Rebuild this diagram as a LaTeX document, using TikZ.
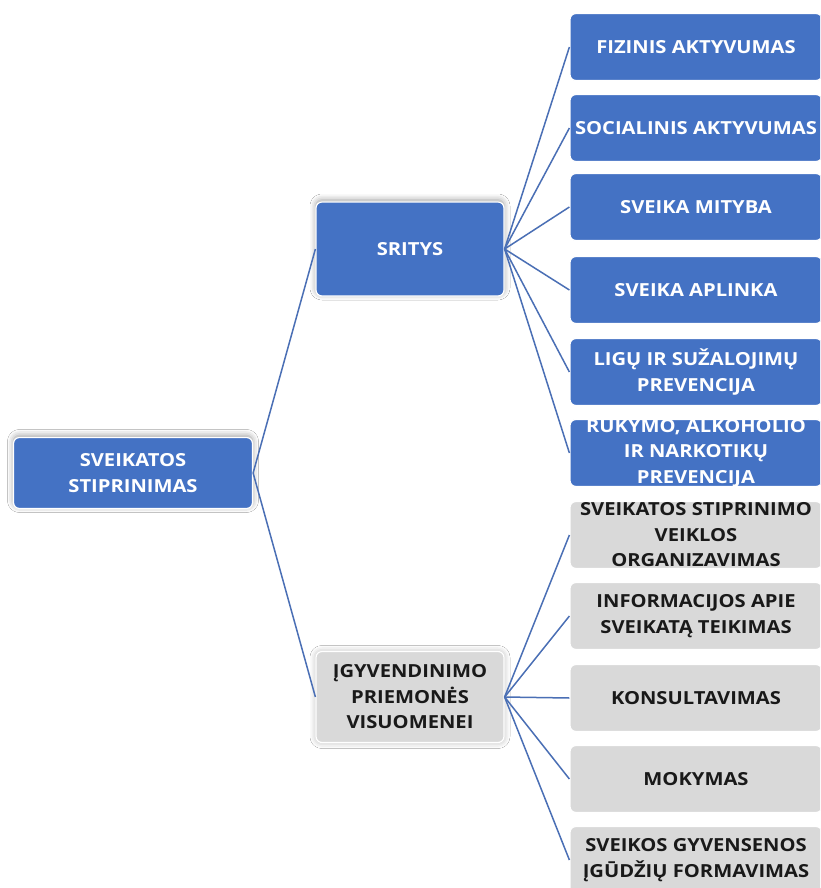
\documentclass[tikz,border=0pt]{standalone}
\usepackage{fontspec}
\setmainfont{Open Sans}[FakeStretch=1.12]
\usetikzlibrary{shadows.blur}
\definecolor{boxblue}{HTML}{4472C4}
\definecolor{boxgray}{HTML}{D9D9D9}
\definecolor{linkblue}{HTML}{4A6FB5}
\tikzset{
  box/.style={rounded corners=6pt, draw=white, line width=1.2pt, inner sep=0pt},
  bluebox/.style={box, fill=boxblue},
  graybox/.style={box, fill=boxgray},
  lbl/.style={font=\bfseries\fontsize{18}{25.5}\selectfont, align=center, inner sep=0pt},
  wlbl/.style={lbl, text=white},
  klbl/.style={lbl, text=black!90},
  link/.style={draw=linkblue, line width=1.5pt},
  rbox/.style={minimum width=252pt, minimum height=67pt},
  shad/.style={blur shadow={shadow xshift=0pt, shadow yshift=2pt, shadow blur radius=6pt, shadow opacity=40}},
}
\begin{document}
\begin{tikzpicture}[x=1pt,y=-1pt]
\useasboundingbox (0,0) rectangle (820,888);
\clip (0,0) rectangle (820,888);
\fill[white] (0,0) rectangle (820,888);

% root and middle nodes
\node[bluebox, shad, minimum width=239pt, minimum height=71pt] (root) at (133,473) {};
\node[wlbl] at (root) {SVEIKATOS\\STIPRINIMAS};

\node[bluebox, shad, minimum width=188pt, minimum height=94pt] (sritys) at (410,249) {};
\node[wlbl] at (sritys) {SRITYS};

\node[graybox, minimum width=188pt, minimum height=91pt,
      blur shadow={shadow xshift=0pt, shadow yshift=0pt, shadow blur radius=6pt, shadow opacity=30}] (priem) at (410,697) {};
\node[klbl] at (priem) {ĮGYVENDINIMO\\PRIEMONĖS\\VISUOMENEI};

% blue boxes
\node[bluebox, rbox] (b1) at (696,47) {};
\node[wlbl] at (b1) {FIZINIS AKTYVUMAS};
\node[bluebox, rbox] (b2) at (696,128) {};
\node[wlbl] at (b2) {SOCIALINIS AKTYVUMAS};
\node[bluebox, rbox] (b3) at (696,207) {};
\node[wlbl] at (b3) {SVEIKA MITYBA};
\node[bluebox, rbox] (b4) at (696,290) {};
\node[wlbl] at (b4) {SVEIKA APLINKA};
\node[bluebox, rbox] (b5) at (696,372) {};
\node[wlbl] at (b5) {LIGŲ IR SUŽALOJIMŲ\\PREVENCIJA};
\node[bluebox, rbox] (b6) at (696,453) {};
\node[wlbl] at (b6) {RUKYMO, ALKOHOLIO\\IR NARKOTIKŲ\\PREVENCIJA};

% gray boxes
\node[graybox, rbox] (g1) at (696,535) {};
\node[klbl] at (g1) {SVEIKATOS STIPRINIMO\\VEIKLOS\\ORGANIZAVIMAS};
\node[graybox, rbox] (g2) at (696,616) {};
\node[klbl] at (g2) {INFORMACIJOS APIE\\SVEIKATĄ TEIKIMAS};
\node[graybox, rbox] (g3) at (696,698) {};
\node[klbl] at (g3) {KONSULTAVIMAS};
\node[graybox, rbox] (g4) at (696,779) {};
\node[klbl] at (g4) {MOKYMAS};
\node[graybox, rbox] (g5) at (696,860) {};
\node[klbl] at (g5) {SVEIKOS GYVENSENOS\\ĮGŪDŽIŲ FORMAVIMAS};

% connectors
\draw[link] (root.east) -- (sritys.west);
\draw[link] (root.east) -- (priem.west);
\foreach \n in {b1,b2,b3,b4,b5,b6}{\draw[link] (sritys.east) -- (\n.west);}
\foreach \n in {g1,g2,g3,g4,g5}{\draw[link] (priem.east) -- (\n.west);}
\end{tikzpicture}
\end{document}
